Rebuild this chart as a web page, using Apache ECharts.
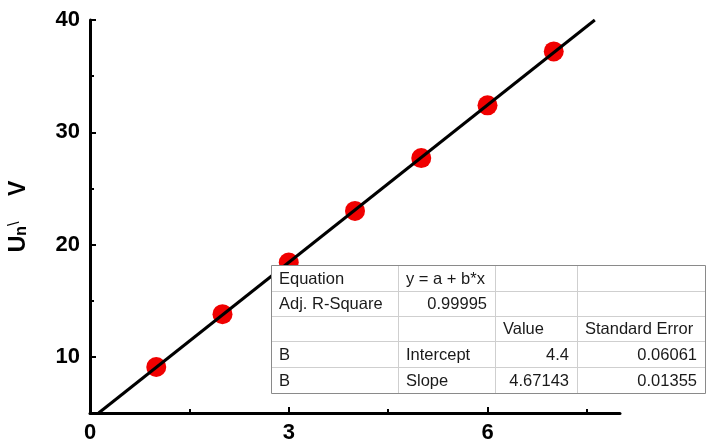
<!DOCTYPE html>
<html lang="en">
<head>
<meta charset="UTF-8">
<title>fit</title>
<script src="https://cdn.jsdelivr.net/npm/echarts@6/dist/echarts.min.js"></script>
</head>
<body style="margin:0;background:#fff">
<div id="main" style="width:706px;height:442px;"></div>
<script type="text/javascript">
// measured points
var xData = [1, 2, 3, 4, 5, 6, 7];
var yData = [9.1, 13.8, 18.4, 23.0, 27.7, 32.4, 37.2];
// fitted line, ends where it leaves the plot
var fitLine = [[0.13, 5], [7.62, 40]];
// ticks
var xLabels = [0, 3, 6];
var xMajor = [3, 6];
var xMinor = [1.5, 4.5, 7.5];
var yLabels = [10, 20, 30, 40];
var yMinor = [15, 25, 35];
// fit result table
var tableRows = [
    ['Equation', 'y = a + b*x', '', ''],
    ['Adj. R-Square', '0.99995', '', ''],
    ['', '', 'Value', 'Standard Error'],
    ['B', 'Intercept', '4.4', '0.06061'],
    ['B', 'Slope', '4.67143', '0.01355']
];

var FONT = 'Liberation Sans, Arial, sans-serif';
var colX = [271, 398, 495, 577, 705];
var rowY = [265, 291, 316, 341, 367, 393];

function buildTable() {
    var els = [];
    els.push({
        type: 'rect', z: 100,
        shape: { x: colX[0] + 0.5, y: rowY[0] + 0.5, width: colX[4] - colX[0], height: rowY[5] - rowY[0] },
        style: { fill: '#fff', stroke: '#8a8a8a', lineWidth: 1 }
    });
    for (var i = 1; i < rowY.length - 1; i++) {
        els.push({
            type: 'line', z: 101,
            shape: { x1: colX[0] + 1, y1: rowY[i] + 0.5, x2: colX[4], y2: rowY[i] + 0.5 },
            style: { stroke: '#cfcfcf', lineWidth: 1 }
        });
    }
    for (var j = 1; j < colX.length - 1; j++) {
        els.push({
            type: 'line', z: 101,
            shape: { x1: colX[j] + 0.5, y1: rowY[0] + 1, x2: colX[j] + 0.5, y2: rowY[5] },
            style: { stroke: '#cfcfcf', lineWidth: 1 }
        });
    }
    for (var r = 0; r < tableRows.length; r++) {
        for (var c = 0; c < 4; c++) {
            var t = tableRows[r][c];
            if (!t) continue;
            var right = /^[0-9.]+$/.test(t);
            els.push({
                type: 'text', z: 102,
                x: right ? colX[c + 1] - 8 : colX[c] + 8,
                y: (rowY[r] + rowY[r + 1]) / 2 + 1,
                style: {
                    text: t, fill: '#1a1a1a', font: '16.5px ' + FONT,
                    textAlign: right ? 'right' : 'left', textVerticalAlign: 'middle'
                }
            });
        }
    }
    return els;
}

var chart = echarts.init(document.getElementById('main'));
var labelStyle = { color: '#000', fontSize: 22, fontWeight: 'bold', fontFamily: FONT };
var option = {
    animation: false,
    grid: { left: 90, right: 86, top: 20, bottom: 29, containLabel: false, outerBoundsMode: 'none' },
    xAxis: [{
        type: 'value', min: 0, max: 8, position: 'bottom',
        splitLine: { show: false },
        axisLine: { onZero: false, lineStyle: { color: '#000', width: 3 } },
        axisTick: { inside: true, length: 6, customValues: xMajor, lineStyle: { color: '#000', width: 2 } },
        axisLabel: Object.assign({ customValues: xLabels, margin: 9 }, labelStyle)
    }, {
        type: 'value', min: 0, max: 8, position: 'bottom',
        splitLine: { show: false },
        axisLine: { show: false, onZero: false },
        axisTick: { inside: true, length: 4, customValues: xMinor, lineStyle: { color: '#000', width: 2 } },
        axisLabel: { show: false }
    }],
    yAxis: [{
        type: 'value', min: 5, max: 40, position: 'left',
        name: '{u|U}{n|n}{s|\\}{u|    V}',
        nameLocation: 'middle', nameGap: 60, nameRotate: 90,
        nameTextStyle: {
            rich: {
                u: { fontSize: 23, fontWeight: 'bold', fontFamily: FONT, color: '#000' },
                n: { fontSize: 16, fontWeight: 'bold', fontFamily: FONT, color: '#000', verticalAlign: 'bottom', padding: [7, 0, 0, 0] },
                s: { fontSize: 16, fontFamily: FONT, color: '#000', verticalAlign: 'top', padding: [0, 0, 7, 0] }
            }
        },
        splitLine: { show: false },
        axisLine: { onZero: false, lineStyle: { color: '#000', width: 3 } },
        axisTick: { inside: true, length: 6, customValues: yLabels, lineStyle: { color: '#000', width: 2 } },
        axisLabel: Object.assign({ customValues: yLabels, margin: 10 }, labelStyle)
    }, {
        type: 'value', min: 5, max: 40, position: 'left',
        splitLine: { show: false },
        axisLine: { show: false, onZero: false },
        axisTick: { inside: true, length: 4, customValues: yMinor, lineStyle: { color: '#000', width: 2 } },
        axisLabel: { show: false }
    }],
    series: [{
        type: 'line',
        data: fitLine,
        symbol: 'none',
        lineStyle: { color: '#000', width: 3 },
        z: 3
    }, {
        type: 'scatter',
        data: xData.map(function (x, i) { return [x, yData[i]]; }),
        symbolSize: 20,
        itemStyle: { color: '#f00000', opacity: 1 },
        z: 2
    }],
    graphic: buildTable()
};
chart.setOption(option);
</script>
</body>
</html>
